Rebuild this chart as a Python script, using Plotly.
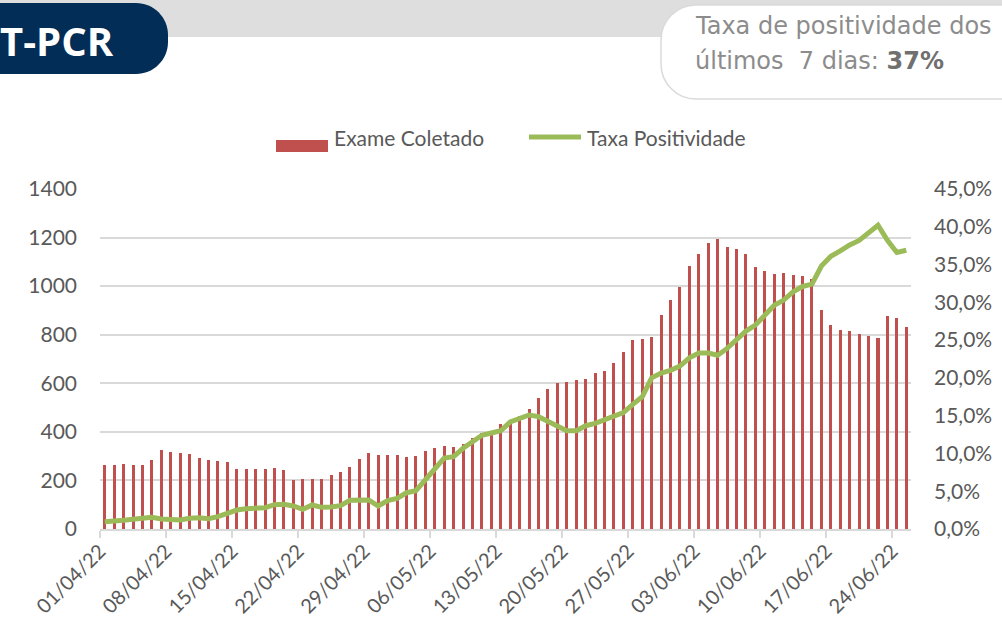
import plotly.graph_objects as go
import pandas as pd

# ---- data ----
dates = pd.date_range("2022-04-01", "2022-06-25", freq="D")
date_strs = dates.strftime("%Y-%m-%d").tolist()

exames = [264, 263, 268, 263, 265, 285, 326, 319, 315, 309, 294, 285, 278, 276,
          246, 246, 246, 246, 250, 243, 202, 206, 206, 206, 223, 235, 254, 289,
          312, 305, 305, 304, 297, 301, 323, 334, 340, 337, 351, 375, 395, 401,
          432, 445, 465, 495, 541, 577, 601, 606, 613, 616, 643, 650, 683, 729,
          777, 784, 790, 880, 944, 998, 1085, 1133, 1179, 1193, 1162, 1151, 1134, 1080,
          1064, 1050, 1054, 1047, 1040, 1030, 903, 840, 821, 815, 803, 795, 786, 878,
          867, 830]

positividade = [0.97, 1.0, 1.15, 1.28, 1.46, 1.55, 1.32, 1.19, 1.2, 1.41, 1.5, 1.37, 1.63, 2.07,
                2.51, 2.69, 2.82, 2.82, 3.22, 3.26, 3.05, 2.6, 3.18, 2.87, 2.9, 3.09, 3.8, 3.75,
                3.84, 3.04, 3.75, 4.06, 4.8, 5.07, 6.4, 7.94, 9.4, 9.57, 10.68, 11.56, 12.4, 12.7,
                13.0, 14.16, 14.65, 15.09, 14.87, 14.2, 13.63, 13.0, 13.0, 13.67, 13.98, 14.43, 14.96, 15.4,
                16.5, 17.5, 20.0, 20.65, 21.0, 21.57, 22.65, 23.3, 23.3, 23.0, 23.9, 25.0, 26.2, 27.0,
                28.2, 29.6, 30.3, 31.4, 32.1, 32.4, 34.8, 36.1, 36.8, 37.6, 38.2, 39.3, 40.2, 38.2,
                36.6, 36.9]

tick_dates = date_strs[::7]
tick_labels = dates[::7].strftime("%d/%m/%y").tolist()

series_names = ["Exame Coletado", "Taxa Positividade"]
series_colors = ["#C0504D", "#9BBB59"]

DAY_MS = 86400000
FONT = "Lato"
TXT = "#595959"
GRID = "#d9d9d9"

fig = go.Figure()
fig.add_trace(go.Bar(
    x=date_strs, y=exames, name=series_names[0], showlegend=False,
    marker=dict(color=series_colors[0], line=dict(width=0)),
    width=0.32 * DAY_MS, xperiod=DAY_MS, xperiodalignment="middle",
))
fig.add_trace(go.Scatter(
    x=date_strs, y=positividade, name=series_names[1], yaxis="y2", showlegend=False,
    mode="lines", line=dict(color=series_colors[1], width=5),
    xperiod=DAY_MS, xperiodalignment="middle",
))

# layout geometry helpers (pixel -> paper)
L, R, T, B = 100, 911, 189, 529
W, H = 1002, 625
def px(x):
    return (x - L) / (R - L)
def py(y):
    return (B - y) / (B - T)

def pt(x, y):
    return f"{px(x):.5f},{py(y):.5f}"

k = 0.5523
r = 32
navy_path = (f"M{pt(-10, 3)} L{pt(168 - r, 3)} "
             f"C{pt(168 - r + k * r, 3)} {pt(168, 3 + r - k * r)} {pt(168, 3 + r)} "
             f"L{pt(168, 74 - r)} "
             f"C{pt(168, 74 - r + k * r)} {pt(168 - r + k * r, 74)} {pt(168 - r, 74)} "
             f"L{pt(-10, 74)} Z")
rb = 35
box_path = (f"M{pt(1012, 5)} L{pt(661 + rb, 5)} "
            f"C{pt(661 + rb - k * rb, 5)} {pt(661, 5 + rb - k * rb)} {pt(661, 5 + rb)} "
            f"L{pt(661, 99 - rb)} "
            f"C{pt(661, 99 - rb + k * rb)} {pt(661 + rb - k * rb, 99)} {pt(661 + rb, 99)} "
            f"L{pt(1012, 99)} Z")

shapes = [
    dict(type="rect", xref="paper", yref="paper", x0=px(-5), x1=px(1010), y0=py(37), y1=py(-5),
         fillcolor="#dedede", line=dict(width=0), layer="below"),
    dict(type="path", xref="paper", yref="paper", path=navy_path,
         fillcolor="#022d56", line=dict(width=0), layer="below"),
    dict(type="path", xref="paper", yref="paper", path=box_path,
         fillcolor="#ffffff", line=dict(color="#dadada", width=1.5), layer="below"),
    # legend keys
    dict(type="rect", xref="paper", yref="paper", x0=px(276), x1=px(328), y0=py(152), y1=py(140),
         fillcolor=series_colors[0], line=dict(width=0)),
    dict(type="line", xref="paper", yref="paper", x0=px(529), x1=px(581), y0=py(137), y1=py(137),
         line=dict(color=series_colors[1], width=5)),
]

annotations = [
    dict(xref="paper", yref="paper", x=px(-2), y=py(40), xanchor="left", yanchor="middle",
         text="<b>T-PCR</b>", showarrow=False,
         font=dict(family="Open Sans", size=40, color="#ffffff")),
    dict(xref="paper", yref="paper", x=px(693), y=py(26), xanchor="left", yanchor="middle",
         text="Taxa de positividade dos", showarrow=False,
         font=dict(family="DejaVu Sans", size=24, color="#8c8c8c")),
    dict(xref="paper", yref="paper", x=px(693), y=py(61), xanchor="left", yanchor="middle",
         text="últimos\u00a0 7 dias: <b><span style='color:#707070'>37%</span></b>", showarrow=False,
         font=dict(family="DejaVu Sans", size=24, color="#8c8c8c")),
    dict(xref="paper", yref="paper", x=px(332), y=py(137), xanchor="left", yanchor="middle",
         text=series_names[0], showarrow=False,
         font=dict(family=FONT, size=21, color=TXT)),
    dict(xref="paper", yref="paper", x=px(585), y=py(137), xanchor="left", yanchor="middle",
         text=series_names[1], showarrow=False,
         font=dict(family=FONT, size=21, color=TXT)),
]

fig.update_layout(
    width=W, height=H, autosize=False,
    margin=dict(l=L, r=W - R, t=T, b=H - B, pad=0, autoexpand=False),
    paper_bgcolor="white", plot_bgcolor="white",
    separators=",.",
    font=dict(family=FONT, size=21, color=TXT),
    showlegend=False,
    bargap=0,
    xaxis=dict(
        type="date", range=["2022-04-01", "2022-06-26"],
        tickvals=tick_dates, ticktext=tick_labels, tickangle=-45,
        ticks="outside", ticklen=7, tickcolor=GRID, tickwidth=1.5,
        showline=True, linecolor=GRID, linewidth=1.5,
        showgrid=False, zeroline=False, automargin=False,
        ticklabelstandoff=-6,
        tickfont=dict(family=FONT, size=20, color=TXT),
    ),
    yaxis=dict(
        range=[0, 1400], dtick=200, tick0=0, tickformat="d",
        showgrid=True, gridcolor=GRID, gridwidth=1.5,
        zeroline=False, showline=False, ticks="", automargin=False,
        ticklabelstandoff=22,
        tickfont=dict(family=FONT, size=21, color=TXT),
    ),
    yaxis2=dict(
        range=[0, 45], dtick=5, tick0=0, tickformat=".1f", ticksuffix="%",
        overlaying="y", side="right", automargin=False,
        showgrid=False, zeroline=False, showline=False, ticks="",
        ticklabelstandoff=22,
        tickfont=dict(family=FONT, size=21, color=TXT),
    ),
    shapes=shapes,
    annotations=annotations,
)

fig.write_html("out.html",
               config={"displayModeBar": False},
               post_script="document.body.style.margin='0px';document.body.style.padding='0px';"
                           "document.body.style.overflow='hidden';")
